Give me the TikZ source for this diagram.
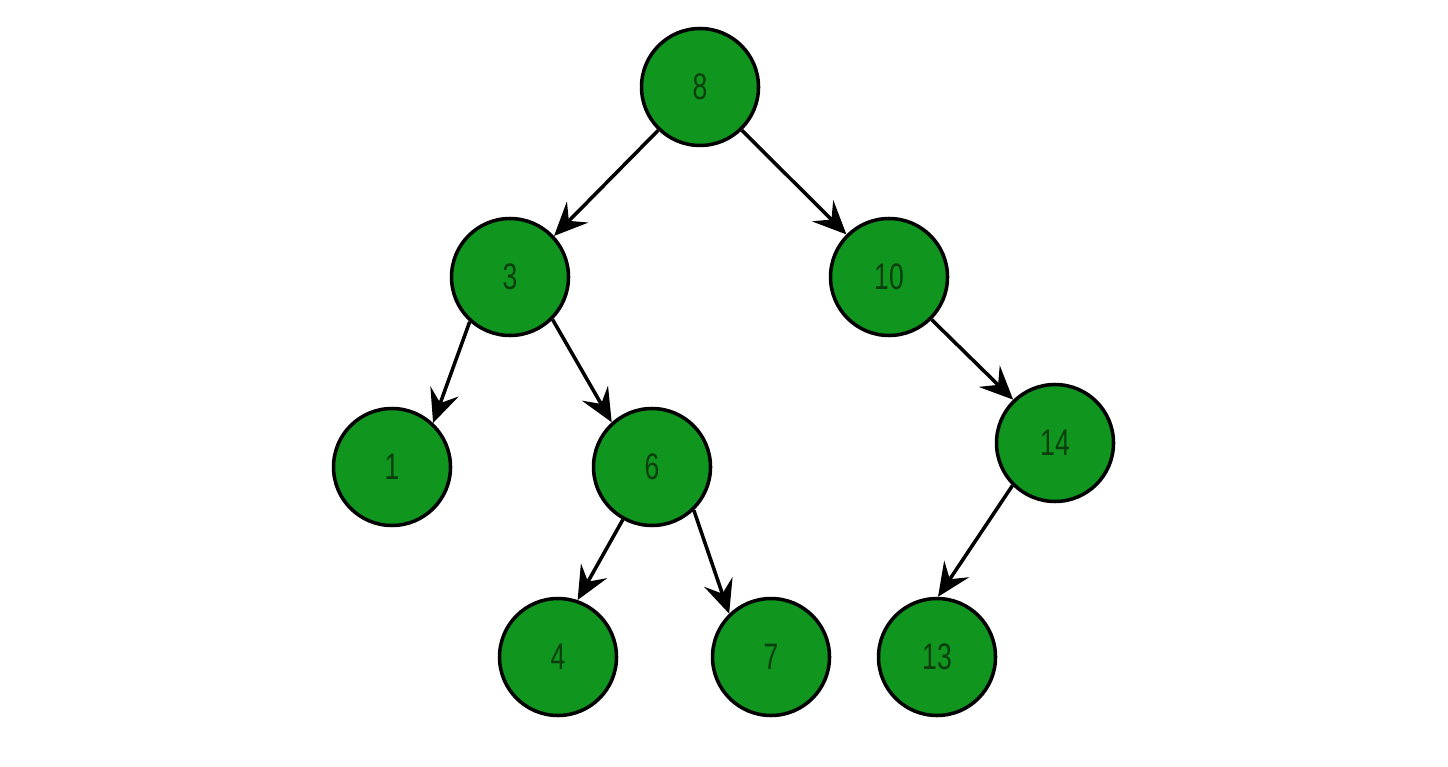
\documentclass[tikz,border=0pt]{standalone}
\usepackage{fontspec}
\usepackage{tikz}
\usetikzlibrary{arrows.meta}
\newfontfamily\keyfont[FakeStretch=0.72]{Liberation Sans}
\definecolor{leafgreen}{HTML}{10951F}
\definecolor{dkgreen}{HTML}{0B3F0E}

\begin{document}
\begin{tikzpicture}[
    treenode/.style={
        circle, draw=black, fill=leafgreen, line width=2pt,
        minimum size=2.34cm, inner sep=0pt,
        font=\keyfont\fontsize{21}{25}\selectfont, text=dkgreen
    },
    treeedge/.style={-{Stealth[length=19pt, width=17pt, inset=7pt]}, line width=2pt, color=black}
]
\useasboundingbox (0,0) rectangle (28.96,15.32);

% --- Root and level 1 ---
\node[treenode] (n8) at (14.00, 13.58) {8};
\node[treenode] (n3) at (10.20, 9.78) {3};
\node[treenode] (n10) at (17.78, 9.78) {10};

% --- Level 2 ---
\node[treenode] (n1) at (7.84, 5.98) {1};
\node[treenode] (n6) at (13.04, 5.98) {6};
\node[treenode] (n14) at (21.10, 6.46) {14};

% --- Level 3 ---
\node[treenode] (n4) at (11.16, 2.18) {4};
\node[treenode] (n7) at (15.42, 2.18) {7};
\node[treenode] (n13) at (18.74, 2.18) {13};

% --- Edges (border angles) ---
\foreach \p/\a/\c/\b in {n8/226/n3/43, n8/314/n10/135, n3/228/n1/47, n3/315/n6/132,
                         n6/241/n4/71, n6/314/n7/134, n10/315/n14/134, n14/225/n13/89} {
    \draw[treeedge] (\p.\a) -- (\c.\b);
}

\end{tikzpicture}
\end{document}
